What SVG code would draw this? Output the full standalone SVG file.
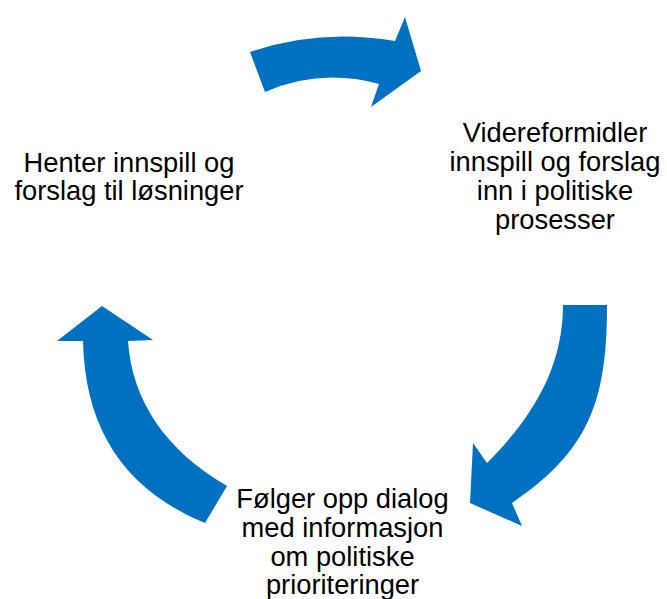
<svg xmlns="http://www.w3.org/2000/svg" width="667" height="599" viewBox="0 0 667 599">
<style>
.arrow{fill:#0070C0;stroke:none}
.lbl{font-family:"Liberation Sans",Arial,sans-serif;font-size:27.3px;fill:#000;text-anchor:middle}
</style>
<rect width="667" height="599" fill="#fff"/>
<g id="connectors">
<path class="arrow" d="M250,52 Q320,28 395,41 L405,17 L421,71 L371,107 L379,84 Q320,68 265,92 Z"/>
<path class="arrow" d="M563,305 L607,305 C607,400 590,450 512,503 L522,526 L470,503 L473,443 L487,463 C530,420 563,370 563,305 Z"/>
<path class="arrow" d="M102,306 L153,340 L128,341 C132,400 165,450 227,486 L205,523 C125,490 85,430 83,341 L57,341 Z"/>
</g>
<g id="node-henter">
<text class="lbl" x="129" y="171.5">Henter innspill og</text>
<text class="lbl" x="129" y="200">forslag til løsninger</text>
</g>
<g id="node-videreformidler">
<text class="lbl" x="555" y="141.5">Videreformidler</text>
<text class="lbl" x="555" y="170.5">innspill og forslag</text>
<text class="lbl" x="555" y="199.5">inn i politiske</text>
<text class="lbl" x="555" y="228.5">prosesser</text>
</g>
<g id="node-folger">
<text class="lbl" x="342.5" y="508">Følger opp dialog</text>
<text class="lbl" x="342.5" y="537">med informasjon</text>
<text class="lbl" x="342.5" y="565.5">om politiske</text>
<text class="lbl" x="342.5" y="593.5">prioriteringer</text>
</g>
</svg>
